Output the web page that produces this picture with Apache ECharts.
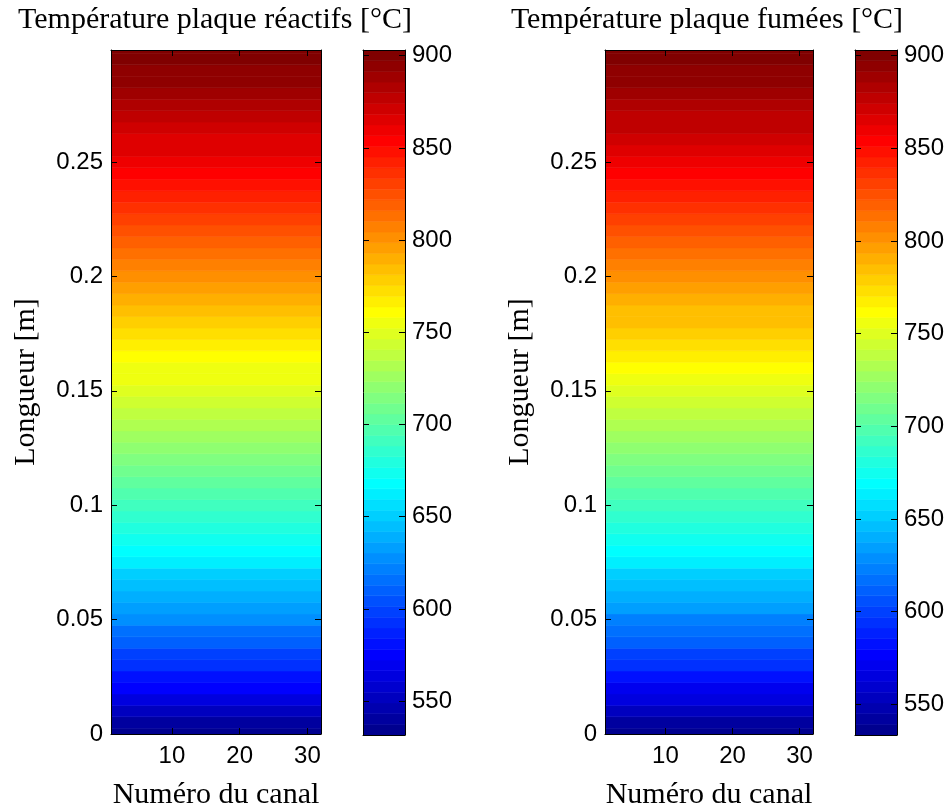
<!DOCTYPE html>
<html><head><meta charset="utf-8">
<script src="https://cdn.jsdelivr.net/npm/echarts@6/dist/echarts.min.js"></script>
<style>html,body{margin:0;padding:0;background:#fff}#chart{width:948px;height:807px}</style>
</head><body><div id="chart"></div>
<script>
// ---- data ----
const channels = [1,2,3,4,5,6,7,8,9,10,11,12,13,14,15,16,17,18,19,20,21,22,23,24,25,26,27,28,29,30,31,32];
const longueur = [0,0.005,0.01,0.015,0.02,0.025,0.03,0.035,0.04,0.045,0.05,0.055,0.06,0.065,0.07,0.075,0.08,0.085,0.09,0.095,
  0.1,0.105,0.11,0.115,0.12,0.125,0.13,0.135,0.14,0.145,0.15,0.155,0.16,0.165,0.17,0.175,0.18,0.185,0.19,0.195,
  0.2,0.205,0.21,0.215,0.22,0.225,0.23,0.235,0.24,0.245,0.25,0.255,0.26,0.265,0.27,0.275,0.28,0.285,0.29,0.295,0.3];
const tempReactifs = [532.0,542.8,553.3,563.4,573.2,582.6,591.7,600.4,608.8,616.9,
  624.6,632.1,639.3,646.2,652.9,659.4,665.7,671.9,677.9,683.8,
  689.6,695.4,701.1,706.9,712.6,718.3,724.0,729.7,735.3,741.0,
  746.6,752.3,757.9,763.5,769.1,774.7,780.3,785.9,791.5,797.1,
  802.7,808.3,813.8,819.4,824.9,830.4,835.8,841.2,846.5,852.0,
  857.4,862.7,867.9,873.0,878.0,882.9,887.7,892.3,896.6,900.3,903.0];
const tempFumees = [533.5,543.9,554.2,564.2,573.9,583.3,592.4,601.2,609.7,617.9,
  625.8,633.4,640.7,647.7,654.5,661.1,667.4,673.6,679.7,685.6,
  691.4,697.2,702.9,708.6,714.3,720.0,725.7,731.4,737.0,742.7,
  748.3,753.9,759.5,765.1,770.7,776.3,781.9,787.5,793.1,798.7,
  804.3,809.9,815.4,821.0,826.5,832.0,837.5,842.9,848.3,853.7,
  859.0,864.2,869.3,874.3,879.2,884.0,888.6,893.0,897.0,900.4,903.0];
const limReactifs = [531.6, 903.1];
const limFumees = [533.5, 903.0];
const xTicks = [10, 20, 30];
const yTicks = [0, 0.05, 0.1, 0.15, 0.2, 0.25];
const cbarTicks = [550, 600, 650, 700, 750, 800, 850, 900];
const titles = ['Température plaque réactifs [°C]', 'Température plaque fumées [°C]'];
const xName = 'Numéro du canal';
const yName = 'Longueur [m]';

// ---- colormap (MATLAB jet, 64 levels) ----
const NLEV = 64;
function jet(k) { // k = 1..64
  let r, g, b;
  r = k <= 24 ? 0 : k <= 40 ? (k - 24) / 16 : k <= 56 ? 1 : 1 - (k - 56) / 16;
  g = k <= 8 ? 0 : k <= 24 ? (k - 8) / 16 : k <= 40 ? 1 : k <= 56 ? 1 - (k - 40) / 16 : 0;
  b = k <= 8 ? 0.5 + k / 16 : k <= 24 ? 1 : k <= 40 ? 1 - (k - 24) / 16 : 0;
  const h = v => Math.round(v * 255);
  return 'rgb(' + h(r) + ',' + h(g) + ',' + h(b) + ')';
}
function levelOf(v, lim) {
  let k = Math.floor((v - lim[0]) / (lim[1] - lim[0]) * NLEV);
  return Math.min(NLEV - 1, Math.max(0, k)) + 1;
}

const yMax = 0.299;
const serifFont = '"Liberation Serif", "Times New Roman", serif';
const sansFont = '"Liberation Sans", Arial, sans-serif';
const black = '#000';

const grids = [
  {left: 111, top: 50, width: 210, height: 684, outerBoundsMode: 'none', containLabel: false},
  {left: 363, top: 50, width: 42, height: 685, outerBoundsMode: 'none', containLabel: false},
  {left: 605, top: 50, width: 208, height: 684, outerBoundsMode: 'none', containLabel: false},
  {left: 855, top: 50, width: 42, height: 685, outerBoundsMode: 'none', containLabel: false}
];

function lineAx(extra) {
  return Object.assign({
    type: 'value', z: 10, splitLine: {show: false},
    axisLine: {show: true, onZero: false, lineStyle: {color: black, width: 1}},
    axisTick: {show: false},
    axisLabel: {show: false}
  }, extra);
}
const tickStyle = (vals) => ({show: true, inside: true, length: 6, lineStyle: {color: black, width: 1}, customValues: vals});
const labelStyle = (vals, margin) => ({show: true, customValues: vals, margin: margin, color: black, fontFamily: sansFont, fontSize: 24});

const xAxis = [], yAxis = [];
// xAxis / yAxis layout per grid g: [main (with labels), mirror]
[0, 1, 2, 3].forEach(g => {
  const isCbar = g % 2 === 1;
  const lim = g < 2 ? limReactifs : limFumees;
  if (!isCbar) {
    xAxis.push(lineAx({gridIndex: g, position: 'bottom', min: channels[0], max: channels[channels.length - 1],
      axisTick: tickStyle(xTicks), axisLabel: labelStyle(xTicks, 10),
      name: xName, nameLocation: 'middle', nameGap: 46,
      nameTextStyle: {fontFamily: serifFont, fontSize: 30, color: black}}));
    xAxis.push(lineAx({gridIndex: g, position: 'top', min: channels[0], max: channels[channels.length - 1],
      axisTick: tickStyle(xTicks)}));
    yAxis.push(lineAx({gridIndex: g, position: 'left', min: 0, max: yMax,
      axisTick: tickStyle(yTicks), axisLabel: labelStyle(yTicks, 8),
      name: yName, nameLocation: 'middle', nameGap: 70,
      nameTextStyle: {fontFamily: serifFont, fontSize: 30, color: black, padding: [0, 0, 0, 20]}}));
    yAxis.push(lineAx({gridIndex: g, position: 'right', min: 0, max: yMax, axisTick: tickStyle(yTicks)}));
  } else {
    xAxis.push(lineAx({gridIndex: g, position: 'bottom', min: 0, max: 1}));
    xAxis.push(lineAx({gridIndex: g, position: 'top', min: 0, max: 1}));
    yAxis.push(lineAx({gridIndex: g, position: 'right', min: lim[0], max: lim[1],
      axisTick: tickStyle(cbarTicks), axisLabel: labelStyle(cbarTicks, 7)}));
    yAxis.push(lineAx({gridIndex: g, position: 'left', min: lim[0], max: lim[1], axisTick: tickStyle(cbarTicks)}));
  }
});

function heatSeries(temps, lim, g) {
  const n = longueur.length;
  return {
    type: 'custom', coordinateSystem: 'cartesian2d', xAxisIndex: 2 * g, yAxisIndex: 2 * g, clip: true,
    data: longueur.map((L, i) => [channels[0], L, temps[i], i]),
    encode: {x: 0, y: 1},
    silent: true, animation: false,
    renderItem: function (params, api) {
      const i = api.value(3);
      const lo = i === 0 ? longueur[0] : (longueur[i - 1] + longueur[i]) / 2;
      const hi = i === n - 1 ? longueur[n - 1] : (longueur[i] + longueur[i + 1]) / 2;
      const p1 = api.coord([channels[0], lo]);
      const p2 = api.coord([channels[channels.length - 1], hi]);
      const c = jet(levelOf(api.value(2), lim));
      return {type: 'rect', shape: {x: p1[0], y: p2[1], width: p2[0] - p1[0], height: p1[1] - p2[1]},
        style: {fill: c, stroke: c, lineWidth: 0.6}};
    }
  };
}
function cbarSeries(lim, g) {
  const levels = [];
  for (let k = 1; k <= NLEV; k++) levels.push([0.5, lim[0] + (k - 0.5) * (lim[1] - lim[0]) / NLEV, k]);
  return {
    type: 'custom', coordinateSystem: 'cartesian2d', xAxisIndex: 2 * g, yAxisIndex: 2 * g, clip: true,
    data: levels, encode: {x: 0, y: 1}, silent: true, animation: false,
    renderItem: function (params, api) {
      const k = api.value(2);
      const step = (lim[1] - lim[0]) / NLEV;
      const p1 = api.coord([0, lim[0] + (k - 1) * step]);
      const p2 = api.coord([1, lim[0] + k * step]);
      const c = jet(k);
      return {type: 'rect', shape: {x: p1[0], y: p2[1], width: p2[0] - p1[0], height: p1[1] - p2[1]},
        style: {fill: c, stroke: c, lineWidth: 0.6}};
    }
  };
}

const chart = echarts.init(document.getElementById('chart'), null, {renderer: 'canvas'});
chart.setOption({
  animation: false,
  backgroundColor: '#fff',
  grid: grids,
  xAxis: xAxis,
  yAxis: yAxis,
  graphic: [
    {type: 'text', x: 215, y: 20, z: 100, style: {text: titles[0], fontFamily: serifFont, fontSize: 30, fill: black,
      align: 'center', verticalAlign: 'middle', textAlign: 'center', textVerticalAlign: 'middle'}},
    {type: 'text', x: 707, y: 20, z: 100, style: {text: titles[1], fontFamily: serifFont, fontSize: 30, fill: black,
      align: 'center', verticalAlign: 'middle', textAlign: 'center', textVerticalAlign: 'middle'}}
  ],
  series: [
    heatSeries(tempReactifs, limReactifs, 0),
    cbarSeries(limReactifs, 1),
    heatSeries(tempFumees, limFumees, 2),
    cbarSeries(limFumees, 3)
  ]
});
</script></body></html>
